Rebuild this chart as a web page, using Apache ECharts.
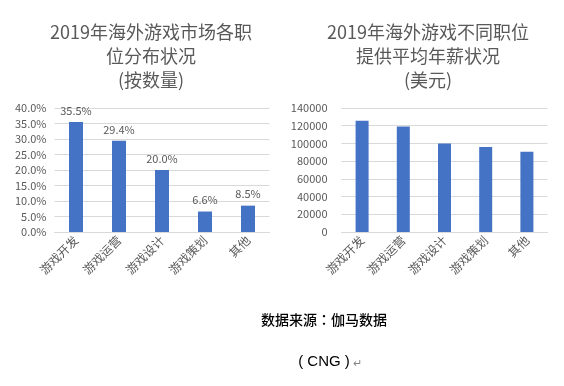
<!DOCTYPE html>
<html><head><meta charset="utf-8">
<script src="https://cdn.jsdelivr.net/npm/echarts@6/dist/echarts.min.js"></script>
<style>html,body{margin:0;padding:0;background:#fff}#c{width:564px;height:386px}</style>
</head><body><div id="c"></div>
<script>
const categories = ['游戏开发','游戏运营','游戏设计','游戏策划','其他'];
const shareValues = [35.5, 29.4, 20.0, 6.6, 8.5];
const salaryValues = [125500, 119000, 99800, 96000, 90500];
const leftTitle = '2019年海外游戏市场各职\n位分布状况\n(按数量)';
const rightTitle = '2019年海外游戏不同职位\n提供平均年薪状况\n(美元)';
const sourceText = '数据来源：伽马数据';
const cngText = '( CNG )';

const FONT = '"Noto Sans CJK SC", "Noto Sans", sans-serif';
const FONT_TC = '"Noto Sans CJK TC", "Noto Sans", sans-serif';
const GRAY = '#595959';
const chart = echarts.init(document.getElementById('c'));
const catAxis = (gi) => ({
  type: 'category', gridIndex: gi, data: categories,
  axisLine: {show: true, lineStyle: {color: '#d9d9d9'}},
  axisTick: {show: false},
  axisLabel: {rotate: 45, color: GRAY, fontSize: 12, fontFamily: FONT, margin: 6}
});
chart.setOption({
  animation: false,
  textStyle: {fontFamily: FONT},
  title: [
    {text: leftTitle, left: 146, top: 15, textAlign: 'center',
     textStyle: {fontSize: 18, fontWeight: 'normal', color: GRAY, lineHeight: 24, fontFamily: FONT}},
    {text: rightTitle, left: 423, top: 15, textAlign: 'center',
     textStyle: {fontSize: 18, fontWeight: 'normal', color: GRAY, lineHeight: 24, fontFamily: FONT}}
  ],
  graphic: [
    {type: 'text', x: 324, y: 320, style: {text: sourceText, fill: '#000', font: '500 14px ' + FONT_TC, textAlign: 'center', textVerticalAlign: 'middle'}},
    {type: 'text', x: 324, y: 362, style: {text: cngText, fill: '#000', font: '15px "Liberation Sans", Arial, sans-serif', textAlign: 'center', textVerticalAlign: 'middle'}},
    {type: 'text', x: 353, y: 363, style: {text: '↵', fill: '#888', font: '11px ' + FONT, textAlign: 'left', textVerticalAlign: 'middle'}}
  ],
  grid: [
    {left: 54.5, right: 294.5, top: 108, bottom: 154},
    {left: 341.5, right: 16.5, top: 108, bottom: 154}
  ],
  xAxis: [catAxis(0), catAxis(1)],
  yAxis: [
    {type: 'value', gridIndex: 0, min: 0, max: 40, interval: 5,
     axisLine: {show: false}, axisTick: {show: false},
     splitLine: {lineStyle: {color: '#d9d9d9'}},
     axisLabel: {color: GRAY, fontSize: 11, fontFamily: FONT, margin: 8, formatter: v => v.toFixed(1) + '%'}},
    {type: 'value', gridIndex: 1, min: 0, max: 140000, interval: 20000,
     axisLine: {show: false}, axisTick: {show: false},
     splitLine: {lineStyle: {color: '#d9d9d9'}},
     axisLabel: {color: GRAY, fontSize: 11, fontFamily: FONT, margin: 14, formatter: v => String(v)}}
  ],
  series: [
    {type: 'bar', xAxisIndex: 0, yAxisIndex: 0, data: shareValues, barWidth: 14,
     itemStyle: {color: '#4472C4'},
     label: {show: true, position: 'top', distance: 6, color: GRAY, fontSize: 11, fontFamily: FONT,
             formatter: p => p.value.toFixed(1) + '%'}},
    {type: 'bar', xAxisIndex: 1, yAxisIndex: 1, data: salaryValues, barWidth: 13,
     itemStyle: {color: '#4472C4'}}
  ]
});
</script></body></html>
